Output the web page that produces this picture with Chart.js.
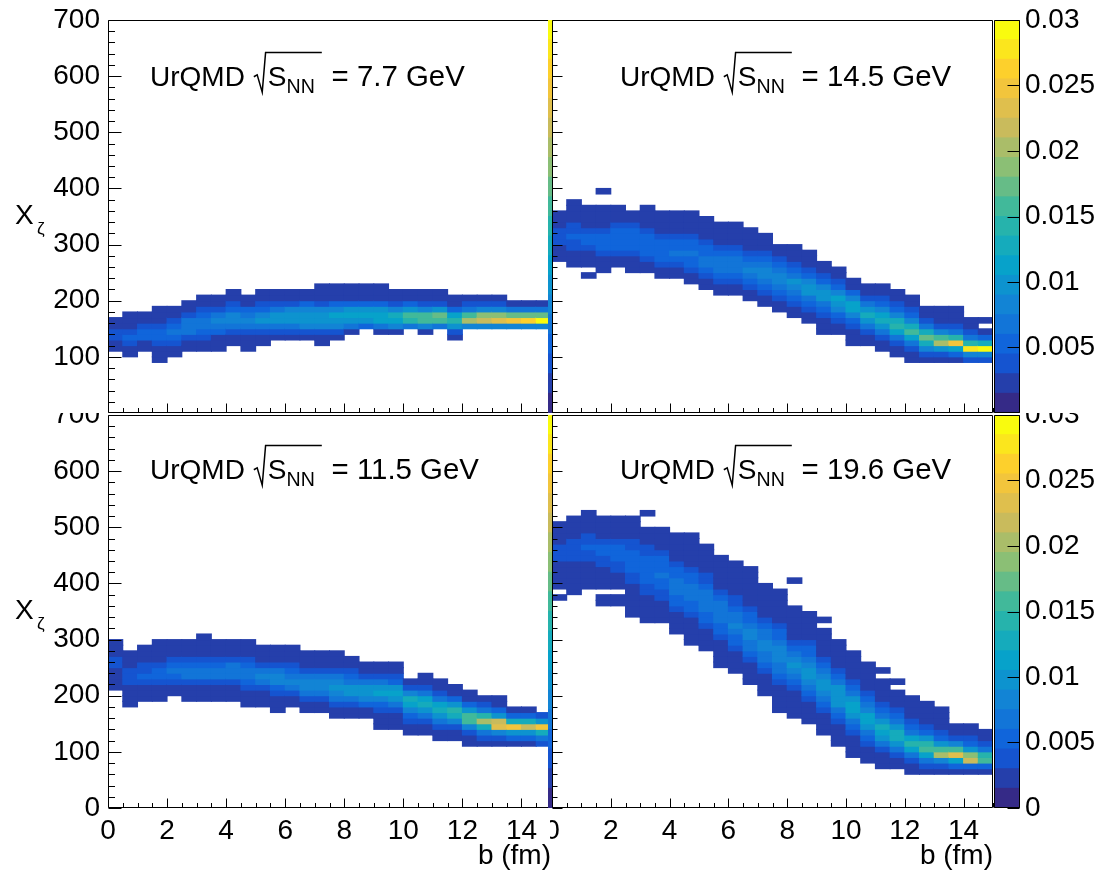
<!DOCTYPE html>
<html><head><meta charset="utf-8"><title>UrQMD X_zeta vs b</title>
<script src="https://cdn.jsdelivr.net/npm/chart.js@4.4.1/dist/chart.umd.min.js"></script>
<style>
html,body{margin:0;padding:0;background:#fff;}
#fig{position:relative;width:1103px;height:873px;overflow:hidden;background:#fff;}
#fig canvas{position:absolute;display:block;}
</style></head>
<body><div id="fig">
<canvas id="tl" width="556" height="413" style="left:0px;top:0px"></canvas>
<canvas id="bl" width="556" height="460" style="left:0px;top:413px"></canvas>
<canvas id="stl" width="5" height="413" style="left:548px;top:0px"></canvas>
<canvas id="sbl" width="5" height="460" style="left:548px;top:413px"></canvas>
<canvas id="tr" width="445" height="413" style="left:550px;top:0px"></canvas>
<canvas id="br" width="445" height="460" style="left:550px;top:413px"></canvas>
<canvas id="ctr" width="113" height="413" style="left:990px;top:0px"></canvas>
<canvas id="cbr" width="113" height="460" style="left:990px;top:413px"></canvas>
</div>
<script>
// ================= DATA =================
const energies = ['7.7', '14.5', '11.5', '19.6'];   // GeV : TL, TR, BL, BR
const bBinWidth = 0.5;     // fm   (x bin width)
const xzBinWidth = 10;     // X_zeta bin height
const bMax = 15, xzMax = 700;
const zMax = 0.03, nContours = 20;
const xTickStep = 2, yTickStep = 100, zTickStep = 0.005;

// per column (b bin): lower edge of first listed cell, then cell contents (x1e-3) upward, 0 = empty
const base77 = [110,100,110,90,100,110,110,110,120,110,120,130,130,130,120,130,140,150,140,140,150,140,150,130,150,150,150,150,150,150];
const dens77 = [
 [2,2,4,4,2,2],[2,2,4,5,4,2,2,2],[2,2,5,5,4,2,2],[2,2,2,4,5,5,4,2,2,2],[2,2,4,5,6,5,4,2,2],
 [2,2,4,6,7,6,4,2,2],[2,2,4,5,7,7,5,4,2,2],[2,2,2,5,7,8,7,4,2,2],[2,2,4,7,8,8,5,4,2,2],[2,2,2,4,7,8,7,5,2,2],
 [2,2,4,7,9,8,5,4,2,2],[2,4,7,9,10,7,4,2,2],[2,4,7,10,10,8,4,2,2],[2,4,8,10,10,8,5,2,2],[2,2,4,8,10,10,8,4,2,2,2],
 [2,4,8,10,11,8,5,2,2,2],[2,7,10,11,9,5,2,2,2],[5,10,11,10,5,2,2,2],[2,7,11,11,9,5,2,2,2],[2,8,11,12,8,4,2,2],
 [7,14,16,10,5,2,2],[2,8,15,16,8,4,2,2],[7,16,17,10,4,2,2],[2,4,10,14,11,5,2,2],[8,20,16,7,4,2],
 [8,22,18,8,4,2],[8,23,18,8,4,2],[8,25,17,7,2],[8,26,17,7,2],[8,29,17,6,2]
];
const base145 = [270,260,240,250,260,250,250,240,240,230,220,210,210,200,190,180,170,160,140,140,120,120,110,100,90,90,90,90,90,90];
const dens145 = [
 [2,2,2,4,4,4,2,2,2],[2,2,2,4,4,5,4,4,2,2,2,2],[2,0,2,2,2,4,5,5,4,2,2,2,2],[2,2,2,4,5,5,5,4,2,2,2,2,0,0,2],[2,2,4,5,5,5,5,4,2,2,2],
 [2,2,2,4,5,5,5,5,4,2,2],[2,2,4,5,5,5,5,4,2,2,2,2],[2,2,4,5,5,5,5,4,2,2,2,2],[2,2,4,5,6,5,5,4,2,2,2,2],[2,2,4,5,5,6,5,5,4,2,2,2,2],
 [2,2,4,5,6,7,5,5,4,2,2,2,2],[2,2,4,5,6,7,6,5,4,2,2,2,2],[2,2,4,5,7,7,6,5,4,2,2,2,2],[2,2,4,5,7,8,6,5,4,2,2,2,2],[2,2,4,5,7,8,8,6,5,4,2,2,2],
 [2,2,4,5,7,8,8,7,5,4,2,2],[2,2,4,5,7,8,9,7,5,4,2,2,2],[2,2,4,5,7,9,10,8,5,4,2,2,2],[2,2,2,4,5,7,10,10,8,5,4,2,2],[2,2,4,5,8,10,11,8,5,4,2,2],
 [2,2,2,4,5,8,11,11,8,5,2,2],[2,2,4,7,10,12,10,7,4,2,2],[2,2,4,7,10,13,11,8,5,4,2,2],[2,2,4,7,11,14,12,8,5,4,2,2],[2,2,4,7,11,15,13,8,5,4,2,2],
 [2,4,8,13,17,13,7,4,2,2],[2,4,10,20,15,8,4,2,2,2],[2,5,11,25,14,7,4,2,2,2],[4,8,27,14,7,4,2,2],[4,8,29,12,5,2,0,2]
];
const base115 = [210,180,190,190,200,190,190,190,190,180,180,170,180,170,170,160,160,160,140,140,130,130,120,120,110,110,110,110,110,110];
const dens115 = [
 [2,2,2,2,4,4,2,2,2],[2,2,2,2,4,4,4,2,2,2],[2,2,2,4,5,4,4,2,2,2],[2,2,2,4,5,5,4,2,2,2,2],[2,2,4,5,6,5,4,2,2,2],
 [2,2,2,4,6,6,5,4,2,2,2],[2,2,2,4,6,6,5,4,2,2,2,2],[2,2,2,4,6,7,5,4,2,2,2],[2,2,2,4,7,7,6,4,2,2,2],[2,2,2,4,5,7,7,5,4,2,2,2],
 [2,2,2,4,7,8,7,4,2,2,2],[2,2,2,4,5,8,8,6,4,2,2,2],[2,2,4,6,8,7,5,4,2,2,2],[2,2,4,6,8,8,6,4,2,2,2],[2,2,4,7,8,8,6,4,2,2,2],
 [2,2,4,6,8,9,8,6,4,2,2,2],[2,2,4,7,9,9,7,5,4,2,2],[2,2,5,8,10,10,7,4,2,2],[2,2,2,4,5,8,11,10,7,4,2,2],[2,2,2,4,7,10,11,9,5,4,2,2],
 [2,2,4,5,8,11,12,8,4,2],[2,2,4,6,9,12,11,7,4,2,2],[2,2,4,7,10,13,11,7,4,2,2],[2,2,4,8,12,14,10,5,2,2],[2,2,4,8,15,16,10,5,2,2],
 [2,4,7,13,20,14,7,4,2],[2,4,8,23,22,10,5,2,2],[2,5,10,25,12,5,2],[2,5,10,22,13,5,2],[4,7,12,24,10,4]
];
const base196 = [370,380,390,360,360,340,330,330,310,290,280,250,240,220,200,170,160,150,130,110,90,80,70,70,60,60,60,60,60,60];
const dens196 = [
 [2,0,2,2,2,2,2,4,4,4,2,2,2,2],[2,2,2,2,2,2,4,4,4,4,2,2,2,2],[2,2,2,2,2,4,4,5,4,4,2,2,2,2],
 [2,2,0,2,2,2,2,4,4,5,5,4,2,2,2,2],[2,2,0,2,2,2,4,4,5,5,5,4,2,2,2,2],
 [2,2,2,2,2,2,4,4,5,5,5,5,4,4,2,2,2,2],[2,2,2,2,2,4,4,5,5,5,5,5,4,4,2,2,2,0,0,2],
 [2,2,2,2,4,4,5,5,6,5,5,5,4,2,2,2,2],[2,2,2,2,4,5,5,6,6,6,5,5,4,2,2,2,2,2],
 [2,2,2,2,2,4,5,5,6,7,6,5,5,4,2,2,2,2,2,2],[2,2,2,2,4,5,5,6,7,7,6,5,4,4,2,2,2,2,2],
 [2,2,2,2,2,4,5,5,6,7,7,6,5,4,2,2,2,2,2,2],[2,2,2,2,4,5,5,7,8,7,6,5,4,4,2,2,2,2,2,2],
 [2,2,2,2,4,5,6,7,8,8,7,5,5,4,2,2,2,2,2,2,2],[2,2,2,2,4,5,6,7,8,8,7,6,5,4,2,2,2,2,2,2],
 [2,2,2,2,2,4,5,6,7,8,8,8,7,5,5,4,2,2,2,2,2,2],[2,2,2,2,2,4,5,7,8,9,8,7,5,4,2,2,2,2,2,2,0,0,0,0,2],
 [2,2,2,2,4,5,6,8,9,9,8,7,5,5,4,2,2,2,2,2],[2,2,2,2,4,5,6,8,9,10,8,6,5,4,2,2,2,2,2,0,2],
 [2,2,2,2,4,5,7,9,10,10,9,6,5,4,2,2,2,2,2],[2,2,2,2,4,5,7,10,11,11,9,6,5,4,2,2,2,2,2],
 [2,2,2,4,5,7,9,11,11,8,6,5,4,2,2,2,2,2],[2,2,2,4,6,9,11,12,10,7,5,4,2,2,2,2,0,2],
 [2,2,4,6,9,12,13,9,6,5,4,2,2,2,0,2],[2,2,4,7,11,14,11,7,5,4,2,2,2,2],
 [2,4,7,11,16,14,9,5,4,2,2,2,2],[2,4,8,20,15,9,5,4,2,2,2,2],[2,5,11,23,16,8,4,2,2],
 [2,5,21,19,10,5,4,2,2],[2,5,16,14,7,4,2,2]
];

// ================= STYLE =================
const FONT = "'Liberation Sans', Arial, Helvetica, sans-serif";
Chart.defaults.font.family = FONT;
Chart.defaults.color = '#000';
const birdStops = [0, .125, .25, .375, .5, .625, .75, .875, 1];
const birdR = [.2082,.0592,.0780,.0232,.1802,.5301,.8186,.9956,.9764];
const birdG = [.1664,.3599,.5041,.6419,.7178,.7492,.7328,.7862,.9832];
const birdB = [.5293,.8684,.8385,.7914,.6425,.4662,.3499,.1968,.0539];
function bird(t) {
  let i = 0;
  while (i < birdStops.length - 2 && t > birdStops[i + 1]) i++;
  const f = (t - birdStops[i]) / (birdStops[i + 1] - birdStops[i]);
  const c = a => Math.round(255 * (a[i] + (a[i + 1] - a[i]) * f));
  return `rgb(${c(birdR)},${c(birdG)},${c(birdB)})`;
}
const levelColors = Array.from({length: nContours}, (_, j) => bird(j / (nContours - 1)));
function colorFor(permille) {
  const j = Math.floor(permille / (zMax * 1000 / nContours) + 1e-9);
  return levelColors[Math.max(0, Math.min(nContours - 1, j))];
}

// ================= PLUGINS =================
const rootFrame = {
  id: 'rootFrame',
  afterDatasetsDraw(chart, args, o) {
    const {ctx, chartArea: a, scales} = chart;
    const xs = scales.x, ys = scales.y;
    ctx.save();
    ctx.strokeStyle = '#000';
    ctx.lineWidth = 1;
    ctx.beginPath();
    const L = Math.round(a.left) + 0.5, R = Math.round(a.right) - 0.5;
    const T = Math.round(a.top) + 0.5, B = Math.round(a.bottom) - 0.5;
    ctx.rect(L, T, R - L, B - T);
    for (let v = xs.min; v <= xs.max + 1e-9; v += o.xMinor) {
      const major = Math.abs(v / o.xMajor - Math.round(v / o.xMajor)) < 1e-6;
      const px = Math.round(xs.getPixelForValue(v)) + 0.5;
      ctx.moveTo(px, B); ctx.lineTo(px, B - (major ? o.xt[0] : o.xt[1]));
    }
    for (let v = ys.min; v <= ys.max + 1e-9; v += o.yMinor) {
      const major = Math.abs(v / o.yMajor - Math.round(v / o.yMajor)) < 1e-6;
      const py = Math.round(ys.getPixelForValue(v)) + 0.5;
      ctx.moveTo(L, py); ctx.lineTo(L + (major ? o.yt[0] : o.yt[1]), py);
    }
    ctx.stroke();
    ctx.restore();
  }
};

const panelTitle = {
  id: 'panelTitle',
  afterDraw(chart, args, o) {
    const {ctx, chartArea: a} = chart;
    const F = s => `${s}px ${FONT}`;
    const fs = o.size;
    ctx.save();
    ctx.fillStyle = '#000'; ctx.strokeStyle = '#000';
    ctx.textAlign = 'left'; ctx.textBaseline = 'alphabetic';
    let x = a.left + o.dx;
    const y = a.top + o.dy;
    ctx.font = F(fs);
    ctx.fillText('UrQMD', x, y);
    x += ctx.measureText('UrQMD').width + 0.32 * fs;
    const sW = ctx.measureText('S').width;
    ctx.font = F(0.7 * fs);
    const nW = ctx.measureText('NN').width;
    const top = y - 1.2 * fs;
    const rEnd = x + 0.45 * fs + sW + nW + 0.3 * fs;
    ctx.lineWidth = 1.5;
    ctx.beginPath();
    ctx.moveTo(x, y - 0.33 * fs);
    ctx.lineTo(x + 0.12 * fs, y - 0.4 * fs);
    ctx.lineTo(x + 0.3 * fs, y + 0.22 * fs);
    ctx.lineTo(x + 0.42 * fs, top);
    ctx.lineTo(rEnd, top);
    ctx.stroke();
    ctx.font = F(fs);
    ctx.fillText('S', x + 0.5 * fs, y);
    ctx.font = F(0.7 * fs);
    ctx.fillText('NN', x + 0.5 * fs + sW, y + 0.26 * fs);
    ctx.font = F(1.05 * fs);
    ctx.fillText('= ' + o.energy + ' GeV', rEnd + 0.35 * fs, y);
    if (o.yTitle) {
      ctx.font = F(fs);
      const ty = a.top + 0.52 * (a.bottom - a.top);
      ctx.fillText('X', 15, ty);
      ctx.font = F(0.62 * fs);
      ctx.fillText('\u03B6', 37, ty + 0.35 * fs);
    }
    ctx.restore();
  }
};

const cbFrame = {
  id: 'cbFrame',
  afterDatasetsDraw(chart, args, o) {
    if (!o.frame) return;
    const {ctx, chartArea: a, scales} = chart;
    const ys = scales.y;
    ctx.save();
    ctx.strokeStyle = '#000'; ctx.lineWidth = 1;
    ctx.beginPath();
    const L = Math.round(a.left) + 0.5, R = Math.round(a.right) - 0.5;
    const T = Math.round(a.top) + 0.5, B = Math.round(a.bottom) - 0.5;
    ctx.rect(L, T, R - L, B - T);
    for (let v = 0; v <= zMax + 1e-12; v += zTickStep) {
      const py = Math.round(ys.getPixelForValue(v)) + 0.5;
      ctx.moveTo(R, py); ctx.lineTo(R - o.tick, py);
    }
    ctx.stroke();
    ctx.restore();
  }
};

// ================= BUILDERS =================
function makePanel(id, energy, base, dens, cfg) {
  const cells = [];
  dens.forEach((col, i) => col.forEach((d, k) => {
    if (d > 0) {
      const y0 = base[i] + k * xzBinWidth;
      cells.push({x: (i + 0.5) * bBinWidth, y: [y0, y0 + xzBinWidth], d: d});
    }
  }));
  return new Chart(document.getElementById(id), {
    type: 'bar',
    data: {datasets: [{
      data: cells,
      backgroundColor: c => colorFor(c.raw ? c.raw.d : 0),
      borderWidth: 0, barPercentage: 1, categoryPercentage: 1, grouped: false, inflateAmount: 0.5
    }]},
    options: {
      responsive: false, animation: false, events: [],
      layout: {padding: cfg.pad},
      plugins: {
        legend: {display: false}, tooltip: {enabled: false},
        rootFrame: {xMajor: xTickStep, xMinor: 0.5, yMajor: yTickStep, yMinor: 20, xt: [9, 4.5], yt: cfg.yt},
        panelTitle: {energy: energy, size: 28, dx: cfg.tdx, dy: cfg.tdy, yTitle: cfg.yTitle}
      },
      scales: {
        x: {
          type: 'linear', min: 0, max: bMax, offset: false, display: cfg.xLabels,
          grid: {display: false, drawTicks: false}, border: {display: false},
          ticks: {stepSize: xTickStep, includeBounds: false, autoSkip: false, maxRotation: 0, padding: 6,
                  font: {size: 28}, color: '#000'},
          title: {display: true, text: 'b (fm)', align: 'end', font: {size: 28}, color: '#000', padding: {top: 0, bottom: 0}},
          afterFit: s => { s.height = cfg.xH; s.paddingLeft = 0; s.paddingRight = 0; }
        },
        y: {
          type: 'linear', min: 0, max: xzMax, display: cfg.yLabels,
          grid: {display: false, drawTicks: false}, border: {display: false},
          ticks: {stepSize: yTickStep, padding: 8, font: {size: 28}, color: '#000',
                  callback: v => (cfg.skipZero && v === 0) ? '' : String(v)},
          afterFit: s => { s.width = cfg.yW; s.paddingTop = 0; s.paddingBottom = 0; }
        }
      }
    },
    plugins: [rootFrame, panelTitle]
  });
}

function makeColorbar(id, cfg) {
  const dz = zMax / nContours;
  const datasets = levelColors.map((col, j) => ({
    data: [[j * dz, (j + 1) * dz]], backgroundColor: col, borderWidth: 0,
    barPercentage: 1, categoryPercentage: 1, grouped: false, inflateAmount: 0.5
  }));
  return new Chart(document.getElementById(id), {
    type: 'bar',
    data: {labels: [''], datasets: datasets},
    options: {
      responsive: false, animation: false, events: [],
      layout: {padding: cfg.pad},
      plugins: {legend: {display: false}, tooltip: {enabled: false}, cbFrame: {frame: cfg.axis, tick: 12}},
      scales: {
        x: {display: false, afterFit: s => { s.height = 0; }},
        y: {
          position: 'right', min: 0, max: zMax, display: cfg.axis,
          grid: {display: false, drawTicks: false}, border: {display: false},
          ticks: {stepSize: zTickStep, padding: 5, font: {size: 28}, color: '#000',
                  callback: v => (cfg.skipZero && Math.abs(v) < 1e-12) ? '' : String(parseFloat(v.toFixed(3)))},
          afterFit: s => { s.width = cfg.yW; s.paddingTop = 0; s.paddingBottom = 0; }
        }
      }
    },
    plugins: [cbFrame]
  });
}

// ================= BUILD =================
makePanel('tl', energies[0], base77, dens77, {pad: {left: 0, top: 20, right: 5, bottom: 0}, xLabels: false, yLabels: true, xH: 0, yW: 108, yt: [13, 6.5], skipZero: true, tdx: 42, tdy: 66, yTitle: true});
makePanel('bl', energies[2], base115, dens115, {pad: {left: 0, top: 2, right: 5, bottom: 0}, xLabels: true, yLabels: true, xH: 65, yW: 108, yt: [13, 6.5], skipZero: false, tdx: 42, tdy: 64, yTitle: true});
makeColorbar('stl', {pad: {left: 0, top: 20, right: 0, bottom: 0}, axis: false, yW: 0});
makeColorbar('sbl', {pad: {left: 0, top: 2, right: 0, bottom: 65}, axis: false, yW: 0});
makePanel('tr', energies[1], base145, dens145, {pad: {left: 2, top: 20, right: 2, bottom: 0}, xLabels: false, yLabels: false, xH: 0, yW: 0, yt: [10, 5], skipZero: true, tdx: 68, tdy: 66, yTitle: false});
makePanel('br', energies[3], base196, dens196, {pad: {left: 2, top: 2, right: 2, bottom: 0}, xLabels: true, yLabels: false, xH: 65, yW: 0, yt: [10, 5], skipZero: false, tdx: 68, tdy: 64, yTitle: false});
makeColorbar('ctr', {pad: {left: 4, top: 20, right: 0, bottom: 0}, axis: true, yW: 83, skipZero: true});
makeColorbar('cbr', {pad: {left: 4, top: 2, right: 0, bottom: 65}, axis: true, yW: 83, skipZero: false});
</script>
</body></html>
